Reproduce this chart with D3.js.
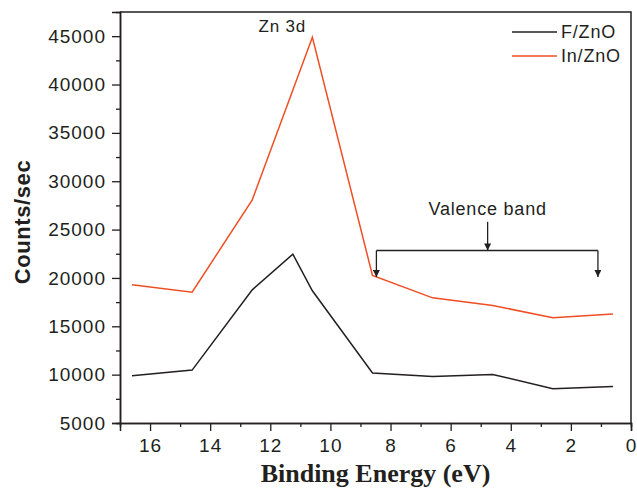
<!DOCTYPE html>
<html>
<head>
<meta charset="utf-8">
<script src="https://cdn.jsdelivr.net/npm/d3@7"></script>
<style>
  body { margin: 0; background: #fff; }
  svg { display: block; }
</style>
</head>
<body>
<div id="main-container"></div>
<script>
const WIDTH = 637
const HEIGHT = 502
const LEFT = 120, RIGHT = 631, TOP = 12, BOTTOM = 423
const INK = '#231f20'
const RED = '#f04e23'

// binding energy (eV)
const ENERGY_F = [16.6, 14.6, 12.6, 11.25, 10.6, 8.6, 6.6, 4.6, 2.6, 0.6]
const COUNTS_F = [9890, 10470, 18770, 22460, 18670, 10170, 9820, 10020, 8550, 8780]
const ENERGY_IN = [16.6, 14.6, 12.6, 10.6, 8.6, 6.6, 4.6, 2.6, 0.6]
const COUNTS_IN = [19290, 18530, 28070, 44880, 20250, 17940, 17150, 15880, 16260]
const SERIES = ['F/ZnO', 'In/ZnO']
const Y_TICKS = [5000, 10000, 15000, 20000, 25000, 30000, 35000, 40000, 45000]
const X_TICKS = [16, 14, 12, 10, 8, 6, 4, 2, 0]

const X_SCALE = d3.scaleLinear().domain([17, 0]).range([LEFT, RIGHT])
const Y_SCALE = d3.scaleLinear().domain([5000, 47500]).range([BOTTOM, TOP])

const SVG = d3.select('#main-container').append('svg')
    .attr('width', WIDTH)
    .attr('height', HEIGHT)
    .style('font-family', '"Liberation Sans", Arial, sans-serif')

// minor ticks first, then major ones
SVG.append('g')
    .attr('transform', `translate(${LEFT},0)`)
    .call(d3.axisLeft(Y_SCALE).tickValues(d3.range(7500, 47500, 5000)).tickSize(4).tickFormat(''))
SVG.append('g')
    .attr('transform', `translate(0,${BOTTOM})`)
    .call(d3.axisBottom(X_SCALE).tickValues(d3.range(15, 0, -2)).tickSize(4).tickFormat(''))

SVG.append('g')
    .attr('transform', `translate(${LEFT},0)`)
    .call(d3.axisLeft(Y_SCALE).tickValues(Y_TICKS).tickSize(8).tickPadding(6).tickFormat(d3.format('d')))
SVG.append('g')
    .attr('transform', `translate(0,${BOTTOM})`)
    .call(d3.axisBottom(X_SCALE).tickValues(X_TICKS).tickSize(8).tickPadding(8).tickFormat(d3.format('d')))

SVG.selectAll('.domain').attr('stroke', INK).attr('stroke-width', 1.5)
SVG.selectAll('.tick line').attr('stroke', INK).attr('stroke-width', 1.3)
SVG.selectAll('.tick text')
    .attr('fill', INK)
    .style('font-size', '19px')
    .style('letter-spacing', '1px')
    .style('font-family', '"Liberation Sans", Arial, sans-serif')

// top and right frame
SVG.append('path')
    .attr('d', `M${LEFT},${TOP}H${RIGHT}V${BOTTOM}`)
    .attr('fill', 'none')
    .attr('stroke', INK)
    .attr('stroke-width', 1.5)

// lines
const LINE = d3.line().x(d => X_SCALE(d[0])).y(d => Y_SCALE(d[1]))
SVG.append('path')
    .datum(d3.zip(ENERGY_F, COUNTS_F))
    .attr('d', LINE)
    .attr('fill', 'none')
    .attr('stroke', INK)
    .attr('stroke-width', 1.5)
SVG.append('path')
    .datum(d3.zip(ENERGY_IN, COUNTS_IN))
    .attr('d', LINE)
    .attr('fill', 'none')
    .attr('stroke', RED)
    .attr('stroke-width', 1.5)

// legend
const LEGEND = SVG.append('g').attr('transform', 'translate(512,32)')
LEGEND.selectAll('line')
    .data(SERIES)
    .enter()
    .append('line')
    .attr('x1', 0).attr('x2', 45)
    .attr('y1', (_, i) => i * 24).attr('y2', (_, i) => i * 24)
    .attr('stroke', (_, i) => i === 0 ? INK : RED)
    .attr('stroke-width', 1.5)
LEGEND.selectAll('text')
    .data(SERIES)
    .enter()
    .append('text')
    .attr('x', 49)
    .attr('y', (_, i) => i * 24 + 6)
    .attr('fill', INK)
    .style('font-size', '18px')
    .style('letter-spacing', '0.8px')
    .text(d => d)

// Zn 3d annotation
SVG.append('text')
    .attr('x', X_SCALE(11.6))
    .attr('y', 32)
    .attr('text-anchor', 'middle')
    .attr('fill', INK)
    .style('font-size', '17px')
    .style('letter-spacing', '0.8px')
    .text('Zn 3d')

// valence band bracket
const defs = SVG.append('defs')
defs.append('marker')
    .attr('id', 'arrow')
    .attr('viewBox', '0 0 10 10')
    .attr('refX', 10).attr('refY', 5)
    .attr('markerWidth', 11).attr('markerHeight', 7)
    .attr('markerUnits', 'userSpaceOnUse')
    .attr('orient', 'auto')
    .append('path')
    .attr('d', 'M0,0L10,5L0,10Z')
    .attr('fill', INK)

const VB_LEFT = 8.47, VB_RIGHT = 1.1, VB_MID = 4.77
const VB_Y = 22830, VB_TIP = 20100, VB_TOP = 25800
SVG.append('text')
    .attr('x', X_SCALE(VB_MID))
    .attr('y', 215)
    .attr('text-anchor', 'middle')
    .attr('fill', INK)
    .style('font-size', '18px')
    .style('letter-spacing', '0.8px')
    .text('Valence band')
SVG.append('line')
    .attr('x1', X_SCALE(VB_LEFT)).attr('x2', X_SCALE(VB_RIGHT))
    .attr('y1', Y_SCALE(VB_Y)).attr('y2', Y_SCALE(VB_Y))
    .attr('stroke', INK).attr('stroke-width', 1.5)
const ARROWS = [[VB_MID, VB_TOP, VB_Y], [VB_LEFT, VB_Y, VB_TIP], [VB_RIGHT, VB_Y, VB_TIP]]
SVG.selectAll('.vb-arrow')
    .data(ARROWS)
    .enter()
    .append('line')
    .attr('class', 'vb-arrow')
    .attr('x1', d => X_SCALE(d[0])).attr('x2', d => X_SCALE(d[0]))
    .attr('y1', d => Y_SCALE(d[1])).attr('y2', d => Y_SCALE(d[2]))
    .attr('stroke', INK).attr('stroke-width', 1.3)
    .attr('marker-end', 'url(#arrow)')

// axis titles
SVG.append('text')
    .attr('transform', 'translate(30,222) rotate(-90)')
    .attr('text-anchor', 'middle')
    .attr('fill', INK)
    .style('font-size', '22px')
    .style('font-weight', 'bold')
    .style('letter-spacing', '0.6px')
    .text('Counts/sec')

SVG.append('text')
    .attr('x', (LEFT + RIGHT) / 2)
    .attr('y', 482)
    .attr('text-anchor', 'middle')
    .attr('fill', INK)
    .style('font-family', '"Liberation Serif", "Times New Roman", serif')
    .style('font-size', '26px')
    .style('font-weight', 'bold')
    .text('Binding Energy (eV)')
</script>
</body>
</html>
